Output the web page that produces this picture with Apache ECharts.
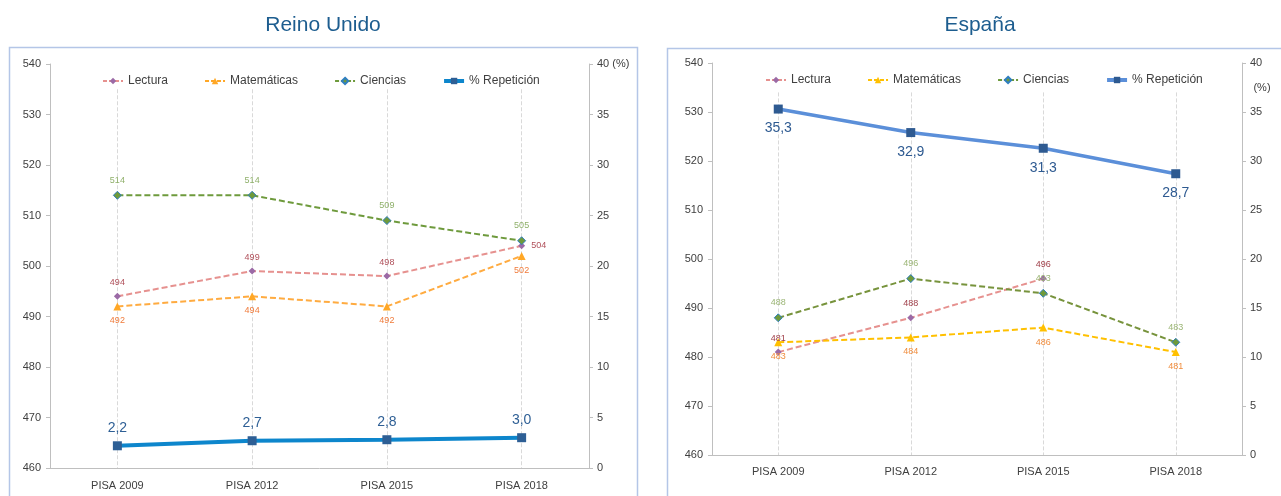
<!DOCTYPE html>
<html>
<head>
<meta charset="utf-8">
<script src="https://cdn.jsdelivr.net/npm/echarts@6/dist/echarts.min.js"></script>
<style>
  html, body { margin: 0; padding: 0; background: #fff; }
  #chart { width: 1281px; height: 496px; }
</style>
</head>
<body>
<div id="chart"></div>
<script>
// categorías y datos
const categories = ['PISA 2009', 'PISA 2012', 'PISA 2015', 'PISA 2018'];

// Reino Unido
const ukLectura = [494, 499, 498, 504];
const ukMatematicas = [492, 494, 492, 502];
const ukCiencias = [514, 514, 509, 505];
const ukRepeticion = [2.2, 2.7, 2.8, 3.0];

// España (sin dato de lectura en 2018)
const esLectura = [481, 488, 496, null];
const esMatematicas = [483, 484, 486, 481];
const esCiencias = [488, 496, 493, 483];
const esRepeticion = [35.3, 32.9, 31.3, 28.7];

const scoreTicks = { min: 460, max: 540, interval: 10 };
const pctTicks = { min: 0, max: 40, interval: 5 };

const FONT = "'Liberation Sans', Arial, sans-serif";
const AXIS_GRAY = '#bfbfbf';
const TEXT_GRAY = '#404040';

const fmtComma = p => p.value.toFixed(1).replace('.', ',');

const chart = echarts.init(document.getElementById('chart'));

// ejes
const xAxisBase = (gridIndex, margin) => ({
  type: 'category',
  gridIndex: gridIndex,
  data: categories,
  boundaryGap: true,
  axisLine: { lineStyle: { color: AXIS_GRAY } },
  axisTick: { show: false },
  axisLabel: { color: TEXT_GRAY, fontSize: 11, fontFamily: FONT, margin: margin },
  splitLine: { show: false }
});

const yLeft = gridIndex => ({
  type: 'value',
  gridIndex: gridIndex,
  position: 'left',
  min: scoreTicks.min, max: scoreTicks.max, interval: scoreTicks.interval,
  axisLine: { show: true, lineStyle: { color: AXIS_GRAY } },
  axisTick: { show: true, length: 4, lineStyle: { color: AXIS_GRAY } },
  axisLabel: { color: TEXT_GRAY, fontSize: 11, fontFamily: FONT, margin: 9 },
  splitLine: { show: false }
});

const yRight = (gridIndex, withUnit) => ({
  type: 'value',
  gridIndex: gridIndex,
  position: 'right',
  min: pctTicks.min, max: pctTicks.max, interval: pctTicks.interval,
  axisLine: { show: true, lineStyle: { color: AXIS_GRAY } },
  axisTick: { show: true, length: 4, lineStyle: { color: AXIS_GRAY } },
  axisLabel: {
    color: TEXT_GRAY, fontSize: 11, fontFamily: FONT, margin: 8,
    formatter: v => (withUnit && v === pctTicks.max) ? v + ' (%)' : String(v)
  },
  splitLine: { show: false }
});

// líneas verticales punteadas en cada categoría
const gridLines = (xi, yi, top) => ({
  type: 'line',
  xAxisIndex: xi, yAxisIndex: yi,
  data: [],
  z: 1,
  markLine: {
    silent: true,
    z: 1,
    symbol: 'none',
    label: { show: false },
    lineStyle: { color: '#d9d9d9', type: 'dashed', width: 1 },
    data: categories.map(c => [{ coord: [c, top] }, { coord: [c, scoreTicks.min] }])
  }
});

const scoreSeries = (name, data, xi, yi, style) => ({
  name: name,
  type: 'line',
  xAxisIndex: xi, yAxisIndex: yi,
  data: data.map((v, i) => (style.labelPos && style.labelPos[i])
    ? { value: v, label: { position: style.labelPos[i] } } : v),
  symbol: style.symbol,
  symbolSize: style.symbolSize,
  z: 3,
  connectNulls: false,
  lineStyle: { color: style.line, width: 2, type: [6, 3] },
  itemStyle: { color: style.marker, borderColor: style.border || style.marker, borderWidth: style.border ? 1 : 0 },
  label: {
    show: true,
    position: style.pos,
    distance: 6,
    color: style.labelColor,
    fontSize: 9,
    fontFamily: FONT
  }
});

const repSeries = (data, xi, yi, style) => ({
  name: '% Repetición',
  type: 'line',
  xAxisIndex: xi, yAxisIndex: yi,
  data: data,
  symbol: 'rect',
  symbolSize: 9,
  z: 4,
  lineStyle: { color: style.line, width: style.width },
  itemStyle: { color: style.marker },
  label: {
    show: true,
    position: style.pos,
    distance: style.dist,
    color: style.marker,
    fontSize: 14,
    fontFamily: FONT,
    formatter: fmtComma
  }
});

const legendFor = (left, top, mathColor, repLine, repMarker) => ({
  left: left,
  top: top,
  itemWidth: 20,
  itemHeight: 8,
  itemGap: 36,
  textStyle: { color: TEXT_GRAY, fontSize: 12, fontFamily: FONT },
  data: [
    { name: 'Lectura', itemStyle: { color: '#9b6aa6' }, lineStyle: { color: '#e6918f', type: [4, 2], width: 2 } },
    { name: 'Matemáticas', itemStyle: { color: mathColor }, lineStyle: { color: mathColor, type: [4, 2], width: 2 } },
    { name: 'Ciencias', itemStyle: { color: '#6e9a3c' }, lineStyle: { color: '#6e9a3c', type: [4, 2], width: 2 } },
    { name: '% Repetición', itemStyle: { color: repMarker }, lineStyle: { color: repLine, width: 4 } }
  ]
});

const option = {
  animation: false,
  backgroundColor: '#ffffff',
  grid: [
    { left: 50, right: 692, top: 64, bottom: 28 },
    { left: 712, right: 39, top: 63, bottom: 41 }
  ],
  legend: [
    legendFor(97, 70, '#ffa726', '#0d86cc', '#2e5f95'),
    legendFor(760, 69, '#ffc000', '#5b8fd9', '#2e5a91')
  ],
  xAxis: [xAxisBase(0, 12), xAxisBase(1, 11)],
  yAxis: [yLeft(0), yRight(0, true), yLeft(1), yRight(1, false)],
  graphic: [
    { type: 'rect', silent: true, shape: { x: 9.5, y: 47.5, width: 628, height: 470 },
      style: { fill: 'none', stroke: '#b4c6e7', lineWidth: 1.5 } },
    { type: 'rect', silent: true, shape: { x: 667.5, y: 48.5, width: 700, height: 470 },
      style: { fill: 'none', stroke: '#b4c6e7', lineWidth: 1.5 } },
    { type: 'text', x: 323, y: 25, silent: true,
      style: { text: 'Reino Unido', textAlign: 'center', textVerticalAlign: 'middle',
               font: '21px ' + FONT, fill: '#1d5d8f' } },
    { type: 'text', x: 980, y: 25, silent: true,
      style: { text: 'España', textAlign: 'center', textVerticalAlign: 'middle',
               font: '21px ' + FONT, fill: '#1d5d8f' } },
    { type: 'text', x: 1262, y: 88, silent: true,
      style: { text: '(%)', textAlign: 'center', textVerticalAlign: 'middle',
               font: '11px ' + FONT, fill: TEXT_GRAY } }
  ],
  series: [
    // Reino Unido
    gridLines(0, 0, 535),
    scoreSeries('Lectura', ukLectura, 0, 0, {
      symbol: 'diamond', symbolSize: 7, line: '#e6918f', marker: '#9b6aa6',
      labelColor: '#b0505a', pos: 'top', labelPos: [null, null, null, 'right'] }),
    scoreSeries('Matemáticas', ukMatematicas, 0, 0, {
      symbol: 'triangle', symbolSize: 8, line: '#ffab40', marker: '#ffa726',
      labelColor: '#f07c3c', pos: 'bottom' }),
    scoreSeries('Ciencias', ukCiencias, 0, 0, {
      symbol: 'diamond', symbolSize: 8, line: '#6e9a3c', marker: '#6e9a3c', border: '#2f7fc1',
      labelColor: '#8fb06a', pos: 'top' }),
    repSeries(ukRepeticion, 0, 1, { line: '#0d86cc', width: 4, marker: '#2e5f95', pos: 'top', dist: 6 }),

    // España
    gridLines(1, 2, 534),
    scoreSeries('Lectura', esLectura, 1, 2, {
      symbol: 'diamond', symbolSize: 7, line: '#e6918f', marker: '#9b6aa6',
      labelColor: '#a0404a', pos: 'top' }),
    scoreSeries('Matemáticas', esMatematicas, 1, 2, {
      symbol: 'triangle', symbolSize: 8, line: '#ffc000', marker: '#ffc000',
      labelColor: '#f08c3c', pos: 'bottom' }),
    scoreSeries('Ciencias', esCiencias, 1, 2, {
      symbol: 'diamond', symbolSize: 8, line: '#77933c', marker: '#6e9a3c', border: '#2f7fc1',
      labelColor: '#9bb575', pos: 'top' }),
    repSeries(esRepeticion, 1, 3, { line: '#5b8fd9', width: 3.5, marker: '#2e5a91', pos: 'bottom', dist: 8 })
  ]
};

chart.setOption(option);
</script>
</body>
</html>
